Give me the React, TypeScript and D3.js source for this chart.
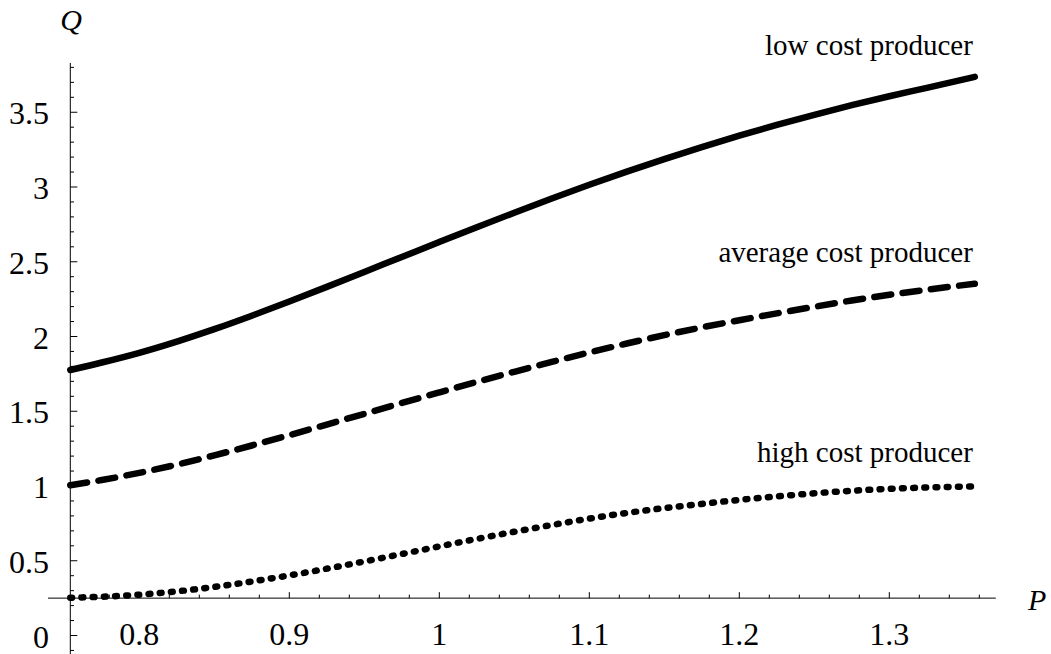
import React from "react";
import * as d3 from "d3";

const priceP = [0.754, 0.775, 0.8, 0.825, 0.85, 0.875, 0.9, 0.925, 0.95, 0.975, 1.0, 1.025, 1.05, 1.075, 1.1, 1.125, 1.15, 1.175, 1.2, 1.225, 1.25, 1.275, 1.3, 1.325, 1.357];
const lowCostQ = [1.776, 1.826, 1.891, 1.966, 2.049, 2.139, 2.234, 2.332, 2.432, 2.532, 2.632, 2.731, 2.828, 2.923, 3.015, 3.103, 3.187, 3.267, 3.343, 3.415, 3.483, 3.547, 3.607, 3.663, 3.737];
const averageCostQ = [1.005, 1.04, 1.088, 1.143, 1.205, 1.271, 1.34, 1.411, 1.483, 1.555, 1.626, 1.696, 1.764, 1.83, 1.893, 1.953, 2.009, 2.061, 2.109, 2.155, 2.199, 2.241, 2.279, 2.313, 2.353];
const highCostQ = [0.253, 0.259, 0.273, 0.295, 0.325, 0.361, 0.402, 0.447, 0.495, 0.545, 0.596, 0.646, 0.694, 0.739, 0.782, 0.82, 0.852, 0.88, 0.907, 0.93, 0.951, 0.968, 0.981, 0.99, 0.997];

const xMajorTicks = [0.8, 0.9, 1, 1.1, 1.2, 1.3];
const xTickLabels = ["0.8", "0.9", "1", "1.1", "1.2", "1.3"];
const yMajorTicks = [0, 0.5, 1, 1.5, 2, 2.5, 3, 3.5];
const yTickLabels = ["0", "0.5", "1", "1.5", "2", "2.5", "3", "3.5"];

const seriesLabels = ["low cost producer", "average cost producer", "high cost producer"];

const FONT = "Liberation Serif, Times New Roman, Times, DejaVu Serif, serif";

export default function App() {
  const W = 1051, H = 654;
  const x = d3.scaleLinear().domain([0.8, 1.3]).range([139.3, 889.3]);
  const y = d3.scaleLinear().domain([0, 3.5]).range([635.5, 112.25]);

  const axisX0 = x(0.754);
  const axisY0 = y(0.25);
  const xAxisStart = 48;
  const xAxisEnd = x(1.371);
  const yAxisTop = y(3.83);

  const xMinor = d3.range(38, 69).map((i) => i * 0.02).filter((v) => !xMajorTicks.some((m) => Math.abs(m - v) < 1e-6));
  const yMinor = d3.range(-1, 39).map((i) => i * 0.1).filter((v) => !yMajorTicks.some((m) => Math.abs(m - v) < 1e-6));

  const line = d3
    .line<number>()
    .x((_, i) => x(priceP[i]))
    .y((d) => y(d))
    .curve(d3.curveMonotoneX);

  const endX = x(1.357);
  const textStyle = { fontFamily: FONT } as React.CSSProperties;
  const italicStyle = { fontFamily: FONT, fontStyle: "italic" } as React.CSSProperties;

  return (
    <svg width={W} height={H} style={{ position: "absolute", left: 0, top: 0, background: "#fff" }}>
      <rect width={W} height={H} fill="#fff" />
      <line x1={xAxisStart} x2={xAxisEnd} y1={axisY0} y2={axisY0} stroke="#000" strokeWidth={1} />
      <line x1={axisX0} x2={axisX0} y1={yAxisTop} y2={H} stroke="#000" strokeWidth={1} />
      {xMajorTicks.map((t) => (
        <line key={"xM" + t} x1={x(t)} x2={x(t)} y1={axisY0} y2={axisY0 - 6} stroke="#000" strokeWidth={1} />
      ))}
      {xMinor.map((t) => (
        <line key={"xm" + t} x1={x(t)} x2={x(t)} y1={axisY0} y2={axisY0 - 3.5} stroke="#000" strokeWidth={1} />
      ))}
      {yMajorTicks.map((t) => (
        <line key={"yM" + t} x1={axisX0} x2={axisX0 + 7} y1={y(t)} y2={y(t)} stroke="#000" strokeWidth={1} />
      ))}
      {yMinor.map((t) => (
        <line key={"ym" + t} x1={axisX0} x2={axisX0 + 3.7} y1={y(t)} y2={y(t)} stroke="#000" strokeWidth={1} />
      ))}
      {xMajorTicks.map((t, i) => (
        <text key={"xl" + t} x={x(t)} y={645} textAnchor="middle" style={textStyle} fontSize={32} fill="#000">
          {xTickLabels[i]}
        </text>
      ))}
      {yMajorTicks.map((t, i) => (
        <text key={"yl" + t} x={49} y={y(t) + 12} textAnchor="end" style={textStyle} fontSize={32} fill="#000">
          {yTickLabels[i]}
        </text>
      ))}
      <text x={71} y={30} textAnchor="middle" style={italicStyle} fontSize={30} fill="#000">Q</text>
      <text x={1028} y={610} textAnchor="start" style={italicStyle} fontSize={30} fill="#000">P</text>

      <path d={line(lowCostQ) || ""} fill="none" stroke="#000" strokeWidth={6.5} strokeLinecap="round" strokeLinejoin="round" />
      <path d={line(averageCostQ) || ""} fill="none" stroke="#000" strokeWidth={6.5} strokeLinecap="round" strokeDasharray="17 11.5" />
      <path d={line(highCostQ) || ""} fill="none" stroke="#000" strokeWidth={6.5} strokeLinecap="round" strokeDasharray="1.8 9.4" />

      <text x={endX - 2} y={55} textAnchor="end" style={textStyle} fontSize={29} fill="#000">{seriesLabels[0]}</text>
      <text x={endX - 2} y={262} textAnchor="end" style={textStyle} fontSize={29} fill="#000">{seriesLabels[1]}</text>
      <text x={endX - 2} y={461.5} textAnchor="end" style={textStyle} fontSize={29} fill="#000">{seriesLabels[2]}</text>
    </svg>
  );
}
